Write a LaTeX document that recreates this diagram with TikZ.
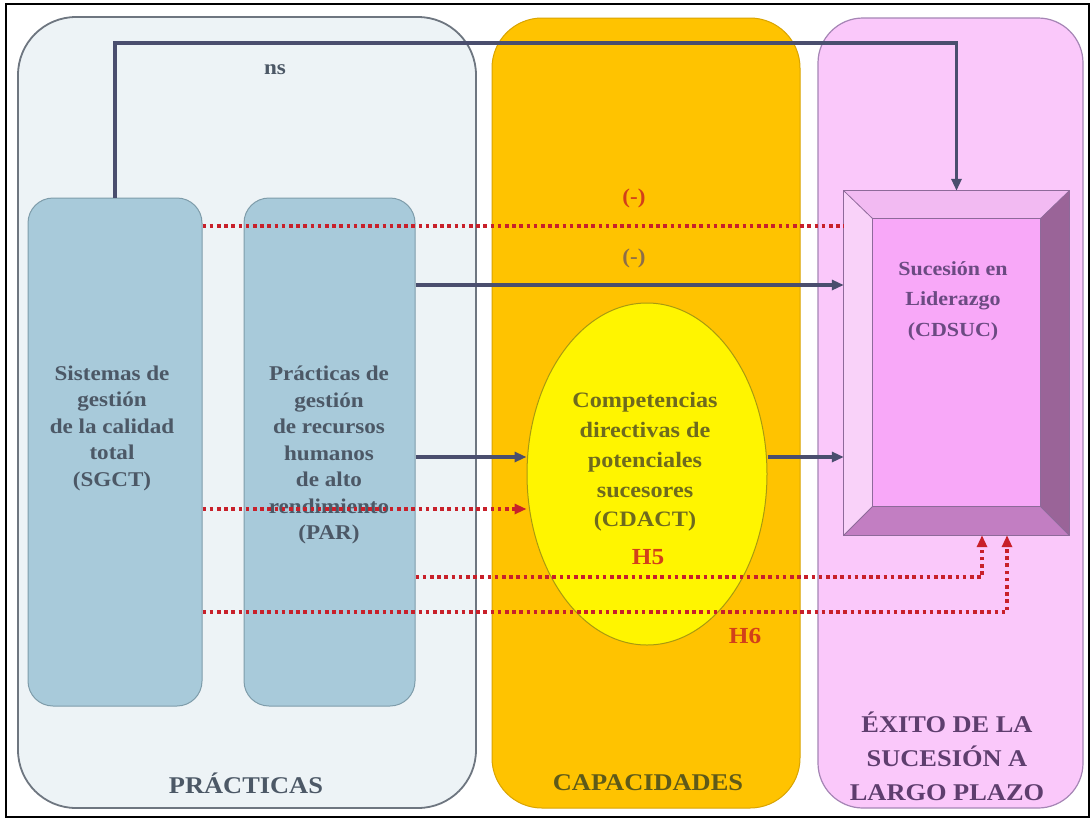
\documentclass[tikz,border=0pt]{standalone}
\usepackage{fontspec}
\setmainfont{Liberation Serif}[FakeStretch=1.1]
\usetikzlibrary{arrows.meta,shapes.geometric}

\definecolor{pracfill}{HTML}{EDF3F6}
\definecolor{pracdraw}{HTML}{6E7680}
\definecolor{boxfill}{HTML}{A8CADA}
\definecolor{boxdraw}{HTML}{7E9CAA}
\definecolor{capfill}{HTML}{FFC300}
\definecolor{capdraw}{HTML}{D9A400}
\definecolor{exfill}{HTML}{FAC8FA}
\definecolor{exdraw}{HTML}{A585B5}
\definecolor{ellfill}{HTML}{FFF500}
\definecolor{elldraw}{HTML}{A89A10}
\definecolor{conn}{HTML}{4A4E6E}
\definecolor{dotred}{HTML}{C8202A}
\definecolor{slate}{HTML}{4C5866}
\definecolor{olive}{HTML}{6E6A1E}
\definecolor{purp}{HTML}{5E3E6E}
\definecolor{sucpurp}{HTML}{6B4A82}
\definecolor{labred}{HTML}{D2401A}
\definecolor{labbrown}{HTML}{8E6E48}
\definecolor{bvface}{HTML}{F8A8F8}
\definecolor{bvtop}{HTML}{F2BAF2}
\definecolor{bvleft}{HTML}{F9D2F9}
\definecolor{bvright}{HTML}{9A6498}
\definecolor{bvbottom}{HTML}{C27EC2}
\definecolor{bvline}{HTML}{8E6A9A}

\begin{document}
\begin{tikzpicture}[x=1pt,y=-1pt,
  panel/.style={draw, line width=1.8pt, inner sep=0pt},
  varbox/.style={draw=boxdraw, fill=boxfill, line width=1pt, rounded corners=25pt,
    minimum width=172pt, minimum height=508pt, inner sep=0pt},
  bodytext/.style={font=\fontsize{21}{26.5}\selectfont\bfseries, align=center, text=slate},
  titletext/.style={font=\fontsize{24}{31}\selectfont\bfseries, align=center},
  labeltext/.style={font=\fontsize{21}{24}\selectfont\bfseries},
  solidconn/.style={draw=conn, line width=3.4pt, -{Triangle[length=12pt,width=10pt]}},
  dotline/.style={draw=dotred, line width=3.8pt, dash pattern=on 3.6pt off 3.6pt},
  dotconn/.style={dotline, -{Triangle[length=12pt,width=10pt,fill=dotred]}}
]
\useasboundingbox (0,0) rectangle (1092,820);
\fill[white] (0,0) rectangle (1092,820);
\draw[black, line width=1.8pt] (6,4) rectangle (1089,817);

% column panels
\node (prac) [panel, draw=pracdraw, fill=pracfill, rounded corners=58pt,
  minimum width=458pt, minimum height=791pt] at (247,412.5) {};
\node (cap) [panel, draw=capdraw, fill=capfill, line width=1pt, rounded corners=50pt,
  minimum width=308pt, minimum height=790pt] at (646,413) {};
\node (exito) [panel, draw=exdraw, fill=exfill, line width=1.2pt, rounded corners=45pt,
  minimum width=265pt, minimum height=790pt] at (950.5,413) {};

% practice boxes
\node (sgct) [varbox, minimum width=174pt] at (115,452) {};
\node (par) [varbox, minimum width=171pt] at (329.5,452) {};
\node [bodytext] at (112,428) {Sistemas de\\gestión\\de la calidad\\total\\(SGCT)};
\node [bodytext] at (329,455) {Prácticas de\\gestión\\de recursos\\humanos\\de alto\\rendimiento\\(PAR)};

% capability ellipse
\node (cd) [ellipse, draw=elldraw, fill=ellfill, line width=1pt,
  minimum width=240pt, minimum height=342pt, inner sep=0pt] at (647,474) {};
\node [bodytext, text=olive, font=\fontsize{22}{29.7}\selectfont\bfseries] at (645,462)
  {Competencias\\directivas de\\potenciales\\sucesores\\(CDACT)};

% bevelled outcome box
\node (suc) [minimum width=225pt, minimum height=344pt, inner sep=0pt] at (956.5,363) {};
\node (sucin) [minimum width=167pt, minimum height=287pt, inner sep=0pt] at (956.5,362.5) {};
\fill[bvtop] (suc.north west) -- (suc.north east) -- (sucin.north east) -- (sucin.north west) -- cycle;
\fill[bvleft] (suc.north west) -- (sucin.north west) -- (sucin.south west) -- (suc.south west) -- cycle;
\fill[bvright] (suc.north east) -- (suc.south east) -- (sucin.south east) -- (sucin.north east) -- cycle;
\fill[bvbottom] (suc.south west) -- (sucin.south west) -- (sucin.south east) -- (suc.south east) -- cycle;
\fill[bvface] (sucin.north west) rectangle (sucin.south east);
\draw[bvline, line width=1pt] (suc.north west) rectangle (suc.south east);
\draw[bvline, line width=0.8pt] (sucin.north west) rectangle (sucin.south east);
\draw[bvline, line width=0.8pt] (suc.north west) -- (sucin.north west)
  (suc.north east) -- (sucin.north east) (suc.south east) -- (sucin.south east)
  (suc.south west) -- (sucin.south west);
\node [bodytext, text=sucpurp, font=\fontsize{20}{30.5}\selectfont\bfseries] at (953,301)
  {Sucesión en\\Liderazgo\\(CDSUC)};

% column titles
\node [titletext, text=slate] at (246,783) {PRÁCTICAS};
\node [titletext, text=olive!85!black] at (648,783) {CAPACIDADES};
\node [titletext, text=purp, font=\fontsize{24}{34}\selectfont\bfseries] at (947,756)
  {ÉXITO DE LA\\SUCESIÓN A\\LARGO PLAZO};

% row levels of the connectors
\coordinate (nsTop) at (540,43);
\coordinate (r1) at (0,226);
\coordinate (r2) at (0,285);
\coordinate (r3) at (0,457);
\coordinate (r4) at (0,509);
\coordinate (r5) at (0,577);
\coordinate (r6) at (0,612);
\coordinate (h5) at (982,0);
\coordinate (h6) at (1007,0);

% connectors
\draw[solidconn] (sgct.north) |- (nsTop) -| (suc.north);
\draw[dotline] (sgct.east |- r1) -- (suc.west |- r1);
\draw[solidconn] (par.east |- r2) -- (suc.west |- r2);
\draw[solidconn] (par.east |- r3) -- (cd.west |- r3);
\draw[solidconn] (cd.east |- r3) -- (suc.west |- r3);
\draw[dotconn] (sgct.east |- r4) -- (cd.west |- r4);
\draw[dotconn] (par.east |- r5) -| (h5 |- suc.south);
\draw[dotconn] (sgct.east |- r6) -| (h6 |- suc.south);

% path labels
\node [labeltext, text=slate] at (275,70) {ns};
\node [labeltext, text=labred] at (634,198) {(-)};
\node [labeltext, text=labbrown] at (634,258) {(-)};
\node [labeltext, text=labred, font=\fontsize{23}{26}\selectfont\bfseries] at (648,557) {H5};
\node [labeltext, text=labred, font=\fontsize{23}{26}\selectfont\bfseries] at (745,636) {H6};
\end{tikzpicture}
\end{document}
